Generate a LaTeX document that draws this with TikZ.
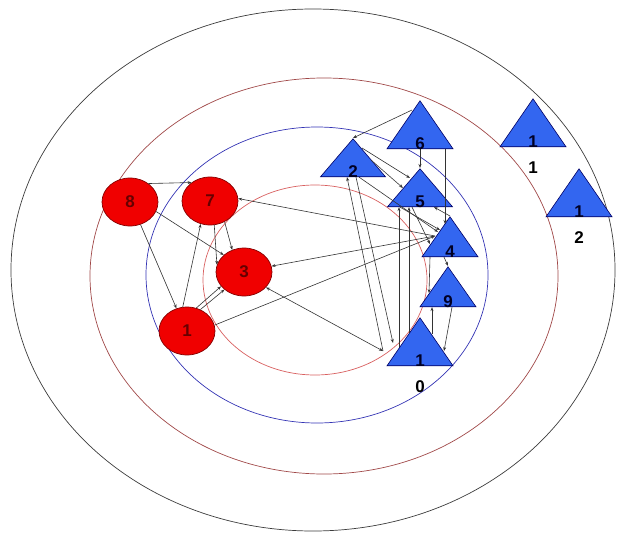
\documentclass[tikz,border=0pt]{standalone}
\usepackage{fontspec}
\setmainfont{Liberation Sans}
\usetikzlibrary{arrows.meta,shapes.geometric,calc}

\definecolor{ringgrey}{HTML}{3C3C3C}
\definecolor{ringbrown}{HTML}{A04848}
\definecolor{ringblue}{HTML}{3434B4}
\definecolor{ringred}{HTML}{D86060}
\definecolor{hostred}{HTML}{F00000}
\definecolor{triblue}{HTML}{3366F0}

\begin{document}
\begin{tikzpicture}[x=1pt, y=-1pt,
    font=\fontsize{17}{17}\selectfont\bfseries,
    ring/.style={line width=0.7pt},
    host/.style={ellipse, draw=hostred!55!black, fill=hostred, line width=0.7pt,
                 minimum width=56pt, minimum height=48pt, inner sep=0pt,
                 text=red!40!black},
    tri/.style={isosceles triangle, isosceles triangle stretches,
                shape border rotate=90, draw=blue!40!black, fill=triblue,
                line width=0.6pt, inner sep=0pt, anchor=apex,
                minimum width=66pt, minimum height=48pt},
    flat/.style={minimum width=65pt, minimum height=38pt},
    small/.style={minimum width=56pt, minimum height=40pt},
    inlbl/.style={anchor=base, inner sep=0pt, text=blue!15!black},
    outlbl/.style={anchor=base, inner sep=0pt, yshift=-26pt, text=black},
    link/.style={->, draw=black!80, line width=0.6pt},
    >={Stealth[length=4pt,width=3pt]}]

    \useasboundingbox (0,0) rectangle (617,532);

    % rings
    \draw[ring, ringgrey] (313,270) ellipse [x radius=302, y radius=261];
    \draw[ring, ringbrown] (324,276) ellipse [x radius=234, y radius=198];
    \draw[ring, ringblue] (317,275) ellipse [x radius=171, y radius=148];
    \draw[ring, ringred] (315,280) ellipse [x radius=112, y radius=95];

    % red hosts
    \node[host] (n8) at (130,202) {8};
    \node[host] (n7) at (210,201) {7};
    \node[host] (n3) at (244,272) {3};
    \node[host] (n1) at (187,331) {1};

    % blue triangles
    \node[tri] (t6) at (420,100) {};
    \node[tri, flat] (t2) at (353,138) {};
    \node[tri, flat] (t5) at (420,168) {};
    \node[tri, small] (t4) at (450,216) {};
    \node[tri, small] (t9) at (448,266) {};
    \node[tri] (t10) at (420,317) {};
    \node[tri] (t11) at (533,98) {};
    \node[tri] (t12) at (579,168) {};

    \coordinate (p4) at ($(t4.apex)+(-15,20)$);
    \coordinate (c10) at ($(t10.apex)+(-37,34)$);

    % links among red hosts
    \draw[link] (n8.45) -- (n7.135);
    \draw[link] (n8.-65) -- (n1.115);
    \draw[link] (n8.-20) -- (n3.140);
    \draw[link] (n1.100) -- (n7.-112);
    \draw[link] (n7.-80) -- (n3.165);
    \draw[link] (n7.-55) -- (n3.118);
    \draw[link] (n1.68) -- (n3.-148);
    \draw[link] (n1.58) -- (n3.-138);

    % long links
    \draw[link] (p4) -- (n7.5);
    \draw[link] (p4) -- (n3.12);
    \draw[link] (n1.12) -- (p4);
    \draw[link, <->] (n3.-35) -- (c10);
    \draw[link] (c10) -- ($(t2.lower side)+(-6,0)$);
    \draw[link] ($(t2.lower side)+(3,0)$) -- ($(t10.apex)+(-27,26)$);

    % links among triangles
    \draw[link] ($(t6.apex)+(-8,10)$) -- (t2.apex);
    \draw[link] ($(t2.apex)+(9,10)$) -- ($(t5.apex)+(-10,10)$);
    \draw[link] ($(t2.apex)+(18,22)$) -- ($(t5.apex)+(-17,20)$);
    \draw[link] (t6.lower side) -- (t5.apex);
    \draw[link] ($(t6.lower side)+(25,0)$) -- ($(t4.apex)+(-5,8)$);
    \draw[link] ($(t2.lower side)+(6,0)$) -- ($(t4.apex)+(-12,16)$);
    \draw[link] ($(t5.lower side)+(-20,0)$) -- ($(t4.apex)+(-10,14)$);
    \draw[link] ($(t5.lower side)+(-8,0)$) -- ($(t4.apex)+(-20,28)$);
    \draw[link] (t4.apex) -- ($(t5.lower side)+(14,0)$);
    \draw[link] ($(t10.apex)+(-21,30)$) -- ($(t5.lower side)+(-21,0)$);
    \draw[link] ($(t10.apex)+(-11,16)$) -- ($(t5.lower side)+(-11,0)$);
    \draw[link] ($(t4.lower side)+(-20,0)$) -- ($(t9.apex)+(-19,27)$);
    \draw[link] ($(t4.lower side)+(-6,0)$) -- (t9.apex);
    \draw[link] ($(t10.apex)+(12,17)$) -- ($(t9.lower side)+(-16,0)$);
    \draw[link] ($(t9.lower side)+(4,0)$) -- ($(t10.apex)+(24,34)$);

    % triangle labels
    \path (t6.lower side) node[inlbl] {6};
    \path (t2.lower side) node[inlbl] {2};
    \path (t5.lower side) node[inlbl] {5};
    \path (t4.lower side) node[inlbl] {4};
    \path (t9.lower side) node[inlbl] {9};
    \path (t10.lower side) node[inlbl] {1} node[outlbl] {0};
    \path (t11.lower side) node[inlbl] {1} node[outlbl] {1};
    \path (t12.lower side) node[inlbl] {1} node[outlbl] {2};
\end{tikzpicture}
\end{document}
